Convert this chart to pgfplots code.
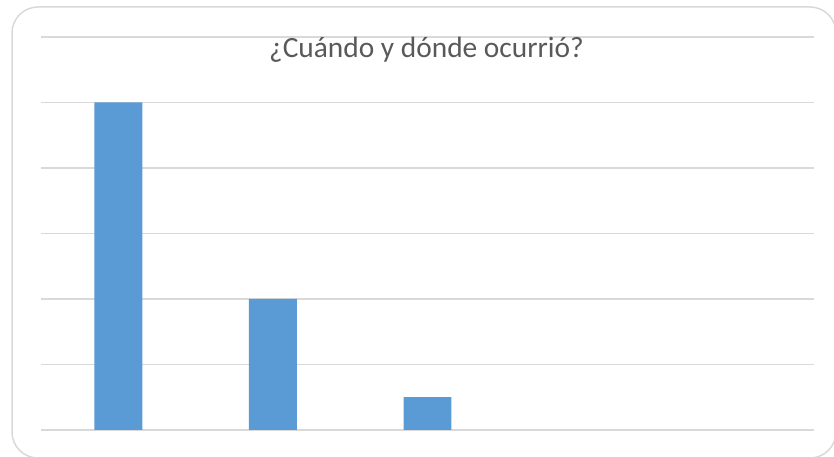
\documentclass[border=0pt]{standalone}
\usepackage{pgfplots}
\pgfplotsset{compat=1.18}
\usepackage{fontspec}
\setmainfont{Carlito}
\definecolor{barblue}{RGB}{91,155,213}
\definecolor{gridgray}{RGB}{217,217,217}
\definecolor{titlegray}{RGB}{89,89,89}
\begin{document}
\begin{tikzpicture}[x=1bp,y=1bp]
\useasboundingbox (0,0) rectangle (834,457);
\begin{scope}
\clip (0,0) rectangle (834,457);
\draw[gridgray, line width=1.5bp, rounded corners=26bp] (12,450) rectangle (836,-1);
\end{scope}
\begin{axis}[
  at={(41bp,27bp)}, anchor=south west,
  scale only axis, width=773bp, height=393bp,
  xmin=-0.5, xmax=4.5, ymin=0, ymax=6,
  axis line style={draw=none},
  tick style={draw=none},
  xtick={0,1,2,3,4}, xticklabels={}, 
  ytick={0,1,2,3,4,5,6}, yticklabels={},
  ymajorgrids,
  major grid style={gridgray, line width=1.2bp},
  ybar, bar width=0.31,
  clip=false,
]
\addplot[fill=barblue, draw=none] coordinates {(0,5) (1,2) (2,0.5)};
\end{axis}
\node[anchor=base, text=titlegray, font=\fontsize{29.5}{32}\selectfont, inner sep=0pt] at (426.5,399) {¿Cuándo y dónde ocurrió?};
\end{tikzpicture}
\end{document}
